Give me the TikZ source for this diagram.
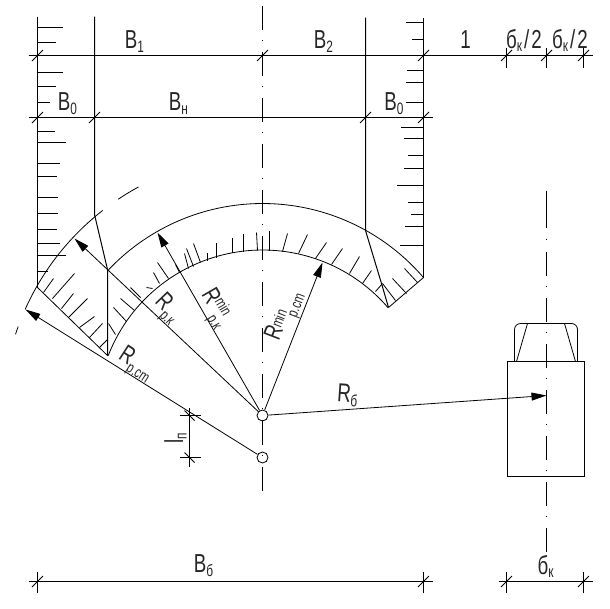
\documentclass[tikz,border=0pt]{standalone}
\usepackage{fontspec}
\setmainfont[FakeStretch=0.72]{Liberation Sans}
\usetikzlibrary{arrows.meta,calc}
\newcommand{\sbs}[1]{\raisebox{-0.25ex}{\fontsize{16.5}{16.5}\selectfont #1}}
\newcommand{\supp}[2]{\raisebox{#1}{\fontsize{15.5}{15.5}\selectfont #2}}
\newcommand{\arcR}[3]{plot[domain=#2:#3,samples=70] ({262+#1*cos(\x)},{415+#1*sin(\x)})}
\tikzset{
  line/.style={draw=black,line width=1pt},
  thin line/.style={draw=black,line width=0.8pt},
  axis/.style={draw=black,line width=0.9pt,dash pattern=on 24.1pt off 10pt on 1pt off 11pt},
  lbl/.style={inner sep=0pt,text=black!85,font=\fontsize{26}{26}\selectfont},
  rlbl/.style={lbl,font=\fontsize{25}{25}\selectfont},
  pivot/.style={circle,draw=black,line width=0.8pt,minimum size=11pt,inner sep=0pt},
  arr/.style={thin line,-{Triangle[length=15pt,width=8pt]}}
}
\begin{document}
\begin{tikzpicture}[x=1pt,y=-1pt]
\useasboundingbox (-0.5,-0.5) rectangle (609.5,607.5);
% walls
\draw[line] (37,16) -- (37,287);
\draw[line] (94,16) -- (94,214) -- (107,269) -- (107,355);
\draw[line] (423,17) -- (423,277);
\draw[line] (365,17) -- (365,230) -- (381,283) -- (388,307);
\draw[thin line] (37,287) -- (107,355);
\draw[thin line] (423,277) -- (388,307);
% arcs
\draw[thin line] \arcR{212}{-136.7}{-40.6};
\draw[thin line] \arcR{165.5}{-158.8}{-40.6};
\draw[thin line] \arcR{260}{-155.9}{-127.9};
\draw[thin line] \arcR{260}{-123.7}{-118.5};
\draw[thin line] \arcR{260}{-161.8}{-160};
% wall hatching
\foreach \y/\e in {27/62,42/55,72/62,86/55,102/49,131/54,142/65,163/59,176/56,197/57,213/57,229/56,243/59,255/65,271/47}
  \draw[thin line] (37,\y) -- (\e,\y);
\foreach \y/\e in {22/405,39/411,70/406,82/405,102/405,127/400,138/403,155/407,168/403,185/396,202/407,214/410,226/404,245/399}
  \draw[thin line] (423,\y) -- (\e,\y);
% curve hatching
\foreach \a/\b/\c/\d in {207/260/207/252,216/257/216/242,232/252/232/237,243/251/243/233,257/250/256/232,269/250/269/230,282/251/287/233,298/253/307/234,315/258/326/242,331/264/342/248,349/273/359/256,362/283/371/270,375/291/382/283,200/262/193/243,193/266/186/248,188/268/184/253,179/272/175/264,168/278/157/262,159/283/153/272,152/288/146/287,140/297/130/287,134/310/120/298,126/321/113/307,115/334/108/323,43/292/53/278,52/298/74/273,61/308/73/293,68/317/87/298,79/327/94/316,89/337/102/323,99/347/107/339,417/282/404/268,406/293/392/278,395/300/382/283}
  \draw[thin line] (\a,\b) -- (\c,\d);
% centre lines
\draw[axis] (262,5) -- (262,490);
\draw[line] (546,190) -- (546,227);
\draw[line] (546,238) -- (546,239);
\draw[axis] (546,251) -- (546,551);
% pivots
\node[pivot] (C1) at (262,415) {};
\node[pivot] (C2) at (262,457) {};
% radius arrows
\coordinate (tipA) at (25,309);
\coordinate (tipB) at (74,238);
\coordinate (tipC) at (157,232);
\coordinate (tipD) at (322,262);
\coordinate (tipE) at (546,395);
\draw[arr] (C2) -- (tipA);
\draw[arr] (C1) -- (tipB);
\draw[arr] (C1) -- (tipC);
\draw[arr] (C1) -- (tipD);
\draw[arr] (C1) -- (tipE);
% vehicle
\draw[line] (507,361) rectangle (584,476);
\draw[thin line,rounded corners=6pt] (514,361) -- (514,323) -- (577,323) -- (577,361);
\draw[thin line] (527,323) -- (516,361);
\draw[thin line] (564,323) -- (575,361);
% dimension lines
\draw[line] (28,55) -- (592,55);
\draw[line] (28,117) -- (432,117);
\draw[line] (28,581) -- (432,581);
\draw[line] (498,581) -- (592,581);
\foreach \x in {506,546,583} \draw[thin line] (\x,47) -- (\x,67);
\foreach \x in {37,423,506,583} \draw[thin line] (\x,571) -- (\x,592);
\foreach \x/\y in {37/55,262/55,423/55,506/55,546/55,583/55,37/117,94/117,365/117,423/117,37/581,423/581,506/581,583/581}
  \draw[thin line] (\x-5.5,\y+5.5) -- (\x+5.5,\y-5.5);
% l dimension
\draw[line] (189,407) -- (189,466);
\draw[line] (179,415) -- (200,415);
\draw[line] (179,457) -- (200,457);
\foreach \y in {415,457} \draw[thin line] (184,\y-5) -- (194,\y+5);
% labels
\node[lbl] (t1) at (134,41) {B\sbs{1}};
\node[lbl] (t2) at (323,41) {B\sbs{2}};
\node[lbl] (t3) at (67,103) {B\sbs{0}};
\node[lbl] (t4) at (178,103) {B\sbs{н}};
\node[lbl] (t5) at (393.5,103) {B\sbs{0}};
\node[lbl] (t6) at (465,39) {1};
\node[lbl] (t7) at (523.5,40) {б\sbs{к}\hspace{2pt}/\hspace{2pt}2};
\node[lbl] (t8) at (569.5,40) {б\sbs{к}\hspace{2pt}/\hspace{2pt}2};
\node[lbl] (t9) at (203,565) {B\sbs{б}};
\node[lbl] (t10) at (545,566) {б\sbs{к}};
\node[lbl,rotate=-4] (t11) at (347,395) {R\sbs{б}};
\node[lbl,rotate=90] (t12) at (175,438) {l\sbs{п}};
\node[rlbl,rotate=-33] (t13) at (135,365) {R\supp{-6pt}{p.cm}};
\node[rlbl,rotate=-46] (t14) at (166,309) {R\supp{-6pt}{p.к}};
\node[rlbl,rotate=-60] (t15) at (214,308) {R\supp{8pt}{min}\hspace{-7pt}\supp{-7pt}{p.к}};
\node[rlbl,rotate=69] (t16) at (285,316) {R\supp{3pt}{min}\hspace{-3pt}\supp{-8pt}{p.cm}};
\end{tikzpicture}
\end{document}
